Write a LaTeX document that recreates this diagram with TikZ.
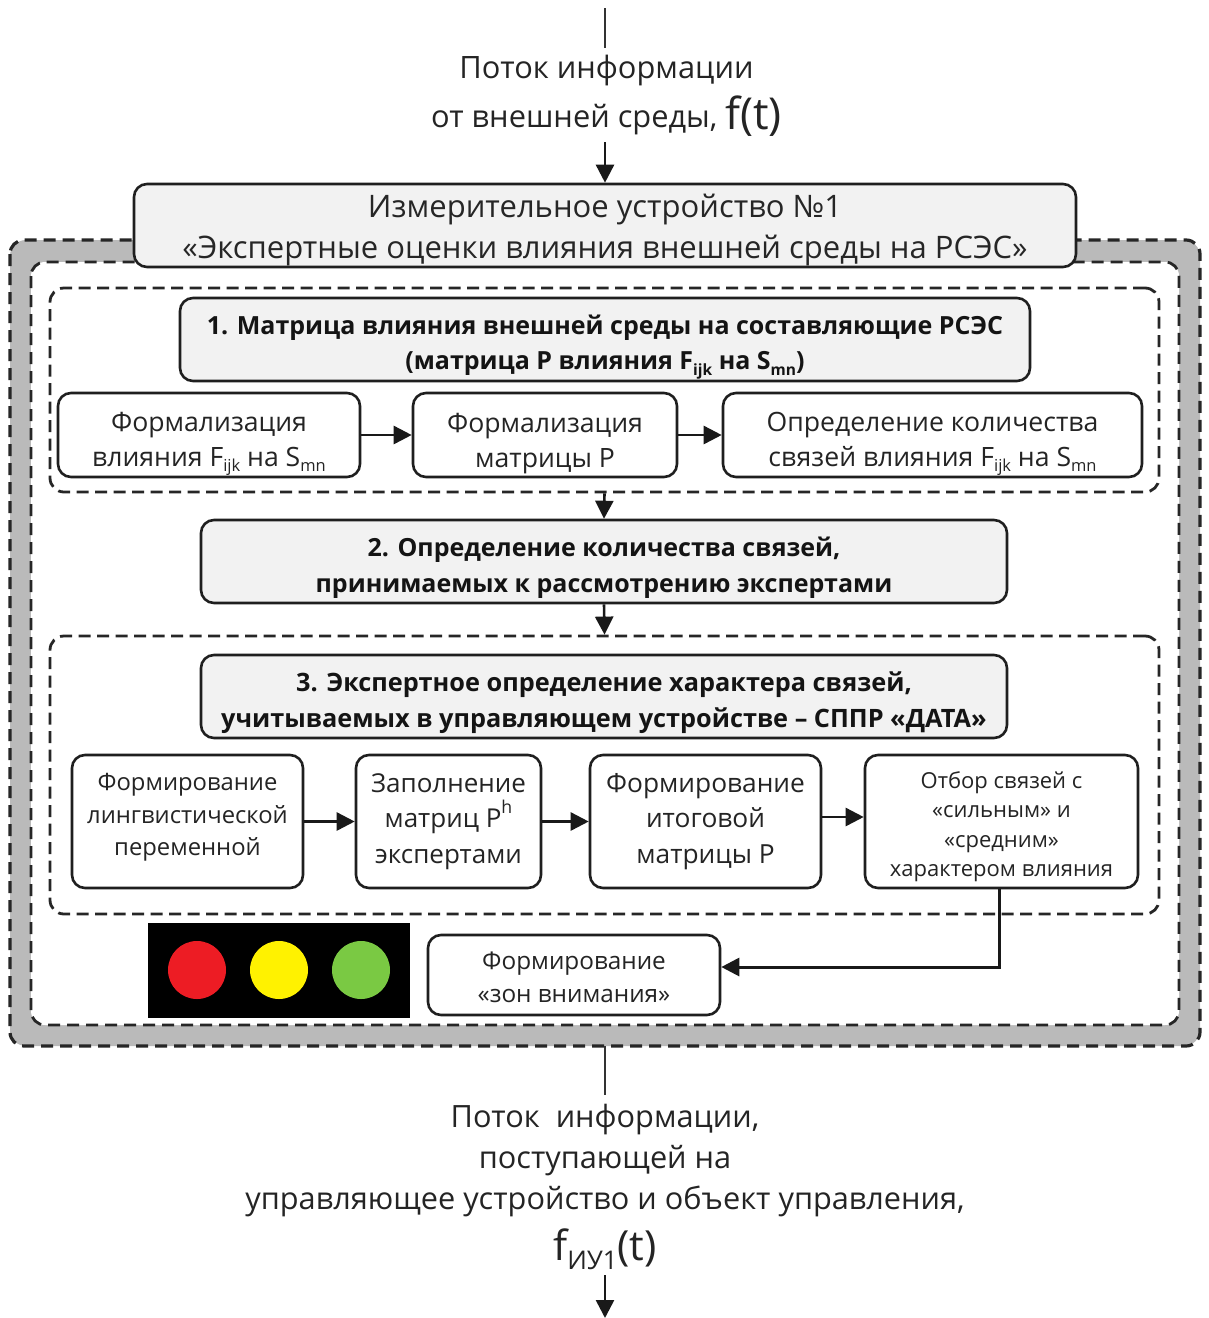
\documentclass[tikz,border=0pt]{standalone}
\usepackage{fontspec}
\setmainfont{Open Sans}
\usetikzlibrary{arrows.meta}
\definecolor{lred}{HTML}{ED1C24}
\definecolor{lyellow}{HTML}{FFF200}
\definecolor{lgreen}{HTML}{7AC943}
\newcommand{\lowsub}[1]{\raisebox{-0.22em}{\scalebox{0.62}{#1}}}
\newcommand{\fs}[2]{\fontsize{#1}{#2}\selectfont}
\newcommand{\padtop}[1]{\rule{0pt}{#1pt}}
\newcommand{\padbot}[1]{\rule[-#1pt]{0pt}{#1pt}}
\tikzset{
  x=1pt,y=-1pt,
  every node/.style={text=black!86,align=center,inner sep=0pt},
  box/.style={draw=black!88,rounded corners=13pt,line width=2.6pt},
  mainbox/.style={box,fill=black!5,font=\fs{25}{35.5}\bfseries,text=black!92},
  subbox/.style={box,fill=white},
  dashbox/.style={draw=black!85,line width=2.8pt,dash pattern=on 12pt off 6.5pt,rounded corners=14pt},
  frameedge/.style={draw=black!85,line width=3.2pt,dash pattern=on 12pt off 7pt,rounded corners=14pt},
  conn/.style={draw=black!90,line width=2.6pt,-{Triangle[length=18pt,width=18pt]}},
  plainline/.style={draw=black!80,line width=2pt},
}
\begin{document}
\begin{tikzpicture}
\useasboundingbox (0,0) rectangle (1209,1318);
% frame
\path[fill=black!27,rounded corners=16pt] (10,240) rectangle (1200,1046);
\path[frameedge] (10,240) rectangle (1200,1046);
\path[fill=white,rounded corners=14pt] (31,262) rectangle (1179,1025);
\path[frameedge,line width=2.8pt] (31,262) rectangle (1179,1025);
\coordinate (frameBottom) at (605,1046);
% dashed groups
\node[dashbox,minimum width=1109pt,minimum height=204pt] (groupA) at (604.5,390) {};
\node[dashbox,minimum width=1109pt,minimum height=278pt] (groupC) at (604.5,775) {};
% top
\coordinate (topStart) at (605,8);
\node[font=\fs{30.8}{49}] (topText) at (606.5,96)
  {Поток информации\\от внешней среды, \raisebox{-2pt}{\fs{44}{49}f(t)}};
\node[mainbox,fill=black!5,font=\fs{31}{41},text=black!85,minimum width=942pt,minimum height=83pt] (device) at (605,225.5)
  {\padtop{31.5}Измерительное устройство №1\\«Экспертные оценки влияния внешней среды на РСЭС»};
% step 1
\node[mainbox,minimum width=850pt,minimum height=83pt] (stepA) at (605,339.5)
  {\padtop{34}1. Матрица влияния внешней среды на составляющие РСЭС\\(матрица Р влияния F\lowsub{ijk} на S\lowsub{mn})};
\node[subbox,font=\fs{26.6}{35},minimum width=302pt,minimum height=84pt] (fa) at (209,435)
  {\padtop{37}Формализация\\влияния F\lowsub{ijk} на S\lowsub{mn}};
\node[subbox,font=\fs{26.6}{35},minimum width=264pt,minimum height=84pt] (fb) at (545,435)
  {\padtop{36}Формализация\\матрицы Р};
\node[subbox,font=\fs{26.6}{35},minimum width=419pt,minimum height=84pt] (fc) at (932.5,435)
  {\padtop{37}Определение количества\\связей влияния F\lowsub{ijk} на S\lowsub{mn}};
% step 2
\node[mainbox,minimum width=806pt,minimum height=83pt] (stepB) at (604,561.5)
  {\padtop{32}2. Определение количества связей,\\принимаемых к рассмотрению экспертами};
% step 3
\node[mainbox,font=\fs{25.3}{35.5}\bfseries,minimum width=806pt,minimum height=83pt] (stepC) at (604,696.5)
  {\padtop{32}3. Экспертное определение характера связей,\\учитываемых в управляющем устройстве – СППР «ДАТА»};
\node[subbox,font=\fs{23.8}{32.5},minimum width=231pt,minimum height=133pt] (ga) at (187.5,821.5)
  {Формирование\\лингвистической\\переменной\padbot{14}};
\node[subbox,font=\fs{26}{35.5},minimum width=185pt,minimum height=133pt] (gb) at (448.5,821.5)
  {Заполнение\\матриц P\raisebox{0.55em}{\scalebox{0.68}{h}}\\экспертами};
\node[subbox,font=\fs{26.3}{35.5},minimum width=231pt,minimum height=133pt] (gc) at (705.5,821.5)
  {Формирование\\итоговой\\матрицы Р};
\node[subbox,font=\fs{22}{29.5},minimum width=273pt,minimum height=133pt] (gd) at (1001.5,821.5)
  {\padtop{27}Отбор связей с\\«сильным» и\\«средним»\\характером влияния};
% traffic light
\node[fill=black,minimum width=262pt,minimum height=95pt] (lights) at (279,970.5) {};
\node[circle,fill=lred,minimum size=58pt] (red) at (197,970) {};
\node[circle,fill=lyellow,minimum size=58pt] (yellow) at (279,970) {};
\node[circle,fill=lgreen,minimum size=58pt] (green) at (361,970) {};
\node[subbox,font=\fs{24.3}{33},minimum width=292pt,minimum height=80pt] (zone) at (574,975)
  {\padtop{22.5}Формирование\\«зон внимания»};
% bottom
\node[font=\fs{30.7}{41}] (botText) at (605,1187)
  {Поток\ \ информации,\\поступающей на\\управляющее устройство и объект управления,\\[10pt]{\fs{41.5}{49}f\lowsub{ИУ1}(t)}};
\coordinate (botLineEnd) at (605,1095);
\coordinate (botArrowStart) at (605,1275);
\coordinate (botArrowEnd) at (605,1318);
\coordinate (topLineEnd) at (605,48);
\coordinate (bendPoint) at (999,967);
% connectors
\draw[plainline,line width=2.6pt] (topStart) -- (topLineEnd);
\draw[conn] (605,142) -- (device.north -| 605,0);
\draw[conn] (fa) -- (fb);
\draw[conn] (fb) -- (fc);
\draw[conn] (groupA.south) -- (stepB.north);
\draw[conn] (stepB.south) -- (groupC.north);
\draw[conn] (ga) -- (gb);
\draw[conn] (gb) -- (gc);
\draw[conn] (gc.east |- 0,817) -- (gd.west |- 0,817);
\draw[conn,line width=3pt] (bendPoint |- gd.south) -- (bendPoint) -- (zone.east |- bendPoint);
\draw[plainline] (frameBottom) -- (botLineEnd);
\draw[conn] (botArrowStart) -- (botArrowEnd);
\end{tikzpicture}
\end{document}
